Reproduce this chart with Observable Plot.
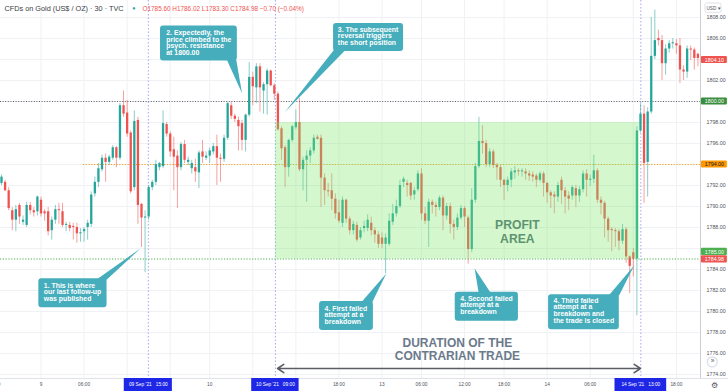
<!DOCTYPE html>
<html><head><meta charset="utf-8">
<script src="https://cdn.jsdelivr.net/npm/d3@7"></script>
<script src="https://cdn.jsdelivr.net/npm/@observablehq/plot@0.6"></script>
<style>html,body{margin:0;padding:0;background:#fff;overflow:hidden} #chart svg{display:block}</style>
</head><body><div id="chart"></div>
<script>
// 30-minute OHLC candles (bar index 0..194)
const opens = [
1792.2,1792.3,1791.5,1789.6,1788.7,1790.1,1788.5,1788.2,1790.1,1789.6,
1789.5,1790.6,1789.5,1789.5,1787.7,1788.7,1789.7,1789.5,1788.2,1788.2,
1788.1,1788.0,1787.4,1787.6,1788.0,1788.3,1791.2,1792.3,1793.5,1794.6,
1794.2,1794.6,1795.6,1794.6,1799.6,1798.9,1797.0,1791.8,1798.2,1790.2,
1788.9,1789.0,1791.8,1792.3,1793.7,1793.8,1797.8,1796.9,1795.4,1794.8,
1793.7,1795.9,1794.2,1793.6,1793.7,1793.2,1795.2,1794.6,1794.8,1795.2,
1795.7,1794.6,1794.5,1796.5,1799.6,1798.6,1798.2,1797.9,1796.3,1798.7,
1802.3,1801.3,1803.3,1801.0,1801.6,1802.9,1801.5,1800.7,1797.4,1795.6,
1793.7,1796.3,1797.5,1798.0,1793.5,1794.4,1794.8,1795.3,1796.6,1796.5,
1792.7,1791.5,1791.5,1790.7,1789.4,1788.4,1790.6,1788.8,1787.7,1788.2,
1787.0,1787.9,1787.9,1788.4,1787.7,1787.3,1787.0,1786.4,1786.4,1788.5,
1789.3,1790.0,1792.3,1792.2,1792.2,1791.1,1791.6,1793.1,1789.3,1788.6,
1790.4,1790.1,1789.9,1790.8,1789.1,1790.0,1788.3,1788.0,1788.9,1789.8,
1788.9,1785.9,1790.6,1793.8,1796.2,1796.0,1794.0,1795.2,1793.9,1793.7,
1792.5,1792.0,1792.5,1793.2,1793.4,1793.3,1793.3,1793.1,1793.0,1792.9,
1792.5,1793.1,1792.2,1791.3,1791.1,1790.9,1792.5,1791.5,1791.0,1791.0,
1791.7,1791.0,1791.6,1793.1,1792.5,1792.6,1793.4,1790.6,1790.3,1788.8,
1787.8,1787.7,1787.6,1786.7,1787.8,1785.2,1785.6,1785.0,1797.2,1798.8,
1794.2,1799.0,1804.3,1806.0,1805.8,1803.6,1805.0,1805.5,1805.5,1805.3,
1803.0,1802.8,1805.0,1804.9,1804.5];
const highs = [
1793.0,1792.5,1791.8,1789.9,1790.1,1790.3,1789.1,1790.4,1790.4,1789.9,
1791.0,1790.9,1789.7,1789.9,1789.0,1790.1,1790.3,1790.3,1788.5,1788.5,
1788.4,1788.4,1787.9,1788.0,1788.7,1791.4,1792.8,1794.1,1794.9,1795.0,
1794.9,1795.8,1795.7,1799.8,1801.0,1800.1,1797.2,1799.1,1798.5,1790.3,
1789.6,1792.0,1792.5,1794.4,1794.2,1799.1,1798.0,1797.1,1796.6,1795.3,
1796.1,1796.3,1794.7,1794.4,1794.5,1795.3,1796.3,1795.2,1795.6,1796.0,
1796.8,1795.0,1796.8,1799.9,1799.9,1798.8,1798.5,1798.2,1798.8,1803.7,
1802.8,1803.6,1803.6,1801.8,1803.1,1803.0,1801.7,1800.9,1797.6,1795.8,
1796.4,1797.7,1799.2,1800.3,1794.7,1795.3,1795.6,1796.8,1796.8,1796.8,
1793.1,1792.2,1793.1,1791.2,1790.6,1790.9,1790.7,1789.0,1788.6,1788.5,
1788.0,1788.6,1789.2,1789.0,1788.0,1787.6,1787.5,1787.4,1789.3,1790.2,
1790.6,1792.5,1792.8,1792.5,1792.3,1791.8,1793.4,1793.6,1789.9,1790.7,
1790.6,1790.4,1791.0,1791.0,1790.3,1790.3,1788.7,1789.3,1790.1,1790.0,
1789.1,1791.7,1794.1,1798.5,1797.7,1796.3,1795.5,1795.4,1794.1,1793.9,
1792.6,1792.8,1793.6,1793.8,1793.6,1793.6,1793.6,1793.4,1793.3,1793.1,
1793.3,1793.3,1792.3,1791.5,1791.4,1792.3,1792.8,1791.8,1791.4,1792.0,
1792.0,1791.9,1793.4,1793.5,1793.0,1794.9,1793.6,1790.9,1790.5,1789.0,
1788.0,1787.9,1787.8,1788.3,1788.0,1785.3,1786.0,1797.6,1799.8,1799.6,
1799.4,1808.0,1808.7,1806.8,1806.3,1805.4,1805.8,1806.0,1805.9,1806.0,
1803.4,1805.3,1805.3,1805.1,1804.6];
const lows = [
1792.0,1791.4,1789.6,1787.7,1787.6,1788.3,1788.2,1788.0,1789.2,1789.0,
1789.1,1789.0,1788.6,1787.2,1786.8,1788.3,1788.3,1788.0,1787.6,1787.6,
1786.8,1786.5,1786.6,1786.6,1786.8,1788.0,1790.9,1791.8,1793.3,1792.3,
1793.9,1794.4,1793.7,1794.4,1798.5,1796.6,1791.2,1791.5,1788.3,1786.1,
1783.7,1788.7,1791.5,1792.0,1793.4,1793.6,1796.6,1794.7,1791.5,1789.8,
1793.4,1794.1,1793.9,1793.1,1792.3,1791.7,1794.1,1794.4,1794.1,1794.9,
1792.0,1792.3,1794.2,1796.3,1798.3,1798.0,1795.3,1795.3,1795.2,1798.5,
1799.6,1799.8,1799.0,1798.8,1798.7,1801.4,1800.1,1797.2,1794.4,1791.8,
1792.8,1796.1,1797.3,1793.3,1791.5,1790.4,1794.1,1795.0,1796.3,1789.9,
1790.1,1790.9,1789.6,1788.8,1788.4,1788.0,1788.4,1787.3,1787.3,1786.6,
1786.8,1787.5,1787.6,1787.2,1786.5,1786.0,1786.0,1783.6,1786.2,1788.2,
1789.0,1789.8,1791.8,1790.9,1790.6,1790.6,1791.4,1788.7,1788.3,1786.1,
1789.3,1789.0,1789.6,1787.7,1788.7,1787.4,1786.8,1787.7,1788.7,1788.0,
1784.5,1785.6,1790.3,1793.6,1795.0,1793.7,1793.7,1793.6,1792.5,1791.8,
1790.6,1791.4,1791.8,1792.6,1792.9,1792.8,1792.5,1792.4,1792.3,1791.8,
1792.3,1790.9,1790.3,1789.8,1789.3,1790.4,1790.2,1789.3,1789.6,1790.6,
1789.9,1790.4,1791.3,1790.9,1791.9,1792.2,1790.3,1789.2,1787.0,1786.6,
1785.7,1786.1,1785.8,1786.4,1784.6,1781.7,1783.3,1779.6,1797.0,1790.3,
1790.9,1798.8,1804.0,1805.3,1802.0,1802.5,1804.6,1805.0,1804.5,1801.7,
1802.0,1802.2,1803.9,1803.0,1803.3];
const closes = [
1792.8,1791.5,1789.8,1788.7,1789.7,1789.0,1788.7,1790.1,1789.6,1789.4,
1790.9,1789.3,1789.3,1787.6,1788.7,1789.7,1789.6,1788.2,1788.3,1787.9,
1788.0,1787.4,1787.5,1787.8,1788.4,1791.1,1792.3,1793.6,1794.6,1794.2,
1794.7,1795.6,1794.6,1799.6,1798.8,1796.9,1791.4,1798.1,1790.1,1788.9,
1789.0,1791.8,1792.3,1794.0,1794.1,1797.9,1796.9,1795.2,1794.7,1793.7,
1795.9,1794.4,1794.4,1794.1,1793.3,1795.1,1794.7,1794.8,1795.3,1795.7,
1794.6,1794.5,1796.5,1799.8,1798.6,1798.3,1797.6,1796.3,1798.7,1802.3,
1801.4,1803.3,1801.3,1801.6,1802.9,1801.5,1800.7,1797.3,1795.5,1793.7,
1796.3,1797.6,1798.0,1793.5,1794.4,1794.8,1795.3,1796.5,1796.4,1792.7,
1791.5,1791.4,1790.7,1789.3,1788.6,1790.6,1788.8,1787.7,1788.3,1786.8,
1787.7,1788.1,1788.7,1787.7,1787.3,1786.4,1786.4,1787.0,1788.6,1789.3,
1790.0,1792.0,1792.6,1792.0,1791.0,1791.5,1793.1,1789.3,1788.6,1790.4,
1790.1,1789.9,1790.8,1789.1,1790.0,1788.3,1788.0,1788.9,1789.8,1789.0,
1785.9,1790.6,1793.8,1796.2,1796.0,1794.0,1795.2,1793.9,1793.7,1792.5,
1792.0,1792.5,1793.3,1793.4,1793.3,1793.4,1793.1,1792.9,1792.8,1792.5,
1793.1,1792.2,1791.3,1791.0,1790.9,1792.0,1791.5,1790.9,1790.7,1791.8,
1791.0,1791.6,1793.1,1792.5,1792.6,1793.4,1790.6,1790.3,1788.8,1787.7,
1787.7,1787.6,1786.7,1787.8,1785.2,1784.3,1784.98,1797.2,1798.8,1794.1,
1799.0,1804.3,1805.8,1805.8,1803.6,1805.0,1805.5,1805.6,1805.3,1803.0,
1802.8,1805.0,1804.9,1804.1,1804.1];

// time axis (bar index of each label); labels hidden behind date markers are flagged
const tickIdx = [-2, 11, 23, 35, 47, 58, 70, 82, 94, 106, 117, 129, 140, 152, 164, 176, 188];
const tickLabels = ["18:00","9","06:00","12:00","18:00","10","06:00","12:00","18:00","13","06:00","12:00","18:00","14","06:00","12:00","18:00"];
const tickHidden = [false,false,false,true,true,false,true,true,false,false,false,false,false,false,false,true,false];
const yTicks = d3.range(1774, 1809, 2);
const yHidden = [1786, 1794, 1800, 1804];

// highlighted dates on the time axis
const markerIdx = [40.9, 76.3, 178.1];
const markerLabels = ["09 Sep '21\u00a0\u00a0\u00a015:00", "10 Sep '21\u00a0\u00a0\u00a009:00", "14 Sep '21\u00a0\u00a0\u00a013:00"];
const markerHalf = [6.7, 6.6, 7.2];

// price levels
const resistance = 1800, midLevel = 1794, support = 1785;
const profitTop = 1798, profitStart = 76.3, profitEnd = 177.7;

// price tags on right scale
const tagValues = ["1804.10", "1800.00", "1794.00", "1785.00", "1784.98"];
const tagY = [1803.95, 1800, 1794, 1785.68, 1784.97];
const tagBg = ["#ef5350", "#388e3c", "#ff9800", "#4caf50", "#ef5350"];
const tagFg = ["#fff", "#fff", "#131722", "#fff", "#fff"];

const callouts = [
 {x1:10.4,x2:29.4,y1:1780.35,y2:1783.11, tx:11.8, ty:1782.71, text:"1. This is where\nour last follow-up\nwas published", ptr:[[26.3,1783.0],[29.2,1783.0],[38.7,1786.0]]},
 {x1:44.3,x2:65.7,y1:1803.86,y2:1807.19, tx:45.9, ty:1806.79, text:"2. Expectedly, the\nprice climbed to the\npsych. resistance\nat 1800.00", ptr:[[62.8,1803.95],[65.4,1803.95],[67.0,1800.79]]},
 {x1:92.5,x2:112.0,y1:1804.76,y2:1807.43, tx:93.7, ty:1807.1, text:"3. The subsequent\nreversal triggers\nthe short position", ptr:[[92.6,1804.9],[95.8,1804.9],[78.9,1798.98]]},
 {x1:88.6,x2:103.6,y1:1778.19,y2:1780.95, tx:90.0, ty:1780.52, text:"4. First failed\nattempt at a\nbreakdown", ptr:[[100.3,1780.9],[103.3,1780.9],[107.2,1783.62]]},
 {x1:126.4,x2:144.0,y1:1779.08,y2:1781.84, tx:127.8, ty:1781.48, text:"4. Second failed\nattempt at a\nbreakdown", ptr:[[132.9,1781.8],[136.2,1781.8],[131.8,1784.1]]},
 {x1:152.4,x2:172.1,y1:1778.26,y2:1781.59, tx:153.8, ty:1781.29, text:"4. Third failed\nattempt at a\nbreakdown and\nthe trade is closed", ptr:[[169.1,1781.5],[172.0,1781.5],[176.3,1784.4]]}
];

const UP = "#26a69a", DOWN = "#ef5350", TEAL = "#45adbb";
const candles = opens.map((o, i) => ({i, o, h: highs[i], l: lows[i], c: closes[i]}));
const col = d => d.c >= d.o ? UP : DOWN;
const bodyEnd = d => Math.abs(d.c - d.o) < 0.1 ? d.o + (d.c >= d.o ? 0.1 : -0.1) : d.c;

const ptrs = callouts.flatMap((c, k) => c.ptr.map(p => ({k, x: p[0], y: p[1]})));
const tags = tagValues.map((t, k) => ({t, y: tagY[k], bg: tagBg[k], fg: tagFg[k]}));
const markers = markerIdx.map((x, k) => ({x, t: markerLabels[k], h: markerHalf[k]}));
const xTicks = tickIdx.map((x, k) => ({x, t: tickLabels[k], hidden: tickHidden[k]}));
const xEnd = 194.72, yMin = 1773.62, yMax = 1809.62;

const chart = Plot.plot({
  width: 728, height: 391,
  marginLeft: 0, marginRight: 28, marginTop: 0, marginBottom: 13,
  x: {domain: [-0.279, xEnd], axis: null},
  y: {domain: [yMin, yMax]},
  color: {type: "identity"},
  style: {fontFamily: "'Liberation Sans', Arial, sans-serif", background: "#fff", overflow: "visible"},
  marks: [
    // grid
    Plot.ruleY(yTicks, {stroke: "#eff1f5", strokeWidth: 1}),
    Plot.ruleX(tickIdx.filter(d => d >= 0), {stroke: "#eff1f5", strokeWidth: 1}),
    // levels
    Plot.ruleY([resistance], {stroke: "#5d606b", strokeWidth: 1, strokeDasharray: "1,1.6"}),
    Plot.ruleY([support], {stroke: "#4caf50", strokeWidth: 1, strokeDasharray: "1.2,1.6"}),
    Plot.ruleY([midLevel], {x1: 22.8, x2: xEnd, stroke: "#f6a01a", strokeWidth: 1, strokeDasharray: "1.2,1.6"}),
    Plot.ruleX(markerIdx, {stroke: "#a3a6f2", strokeWidth: 1, strokeDasharray: "1.5,2"}),
    // candles
    Plot.ruleX(candles, {x: "i", y1: "l", y2: "h", stroke: col, strokeWidth: 1, strokeOpacity: 0.55}),
    Plot.ruleX(candles, {x: "i", y1: "o", y2: bodyEnd, stroke: col, strokeWidth: 2.3}),
    // profit area
    Plot.rect([{x1: profitStart, x2: profitEnd, y1: support, y2: profitTop}], {x1: "x1", x2: "x2", y1: "y1", y2: "y2", fill: "#7be86a", fillOpacity: 0.33}),
    Plot.text([{x: 143.7, y: 1787.62, t: "PROFIT\nAREA"}], {x: "x", y: "y", text: "t", fontSize: 12.2, fontWeight: "bold", fill: "#5f9370", lineHeight: 1.12}),
    // callouts
    Plot.line(ptrs, {x: "x", y: "y", z: "k", fill: TEAL, stroke: "none"}),
    Plot.rect(callouts, {x1: "x1", x2: "x2", y1: "y1", y2: "y2", fill: TEAL, rx: 3}),
    Plot.text(callouts, {x: "tx", y: "ty", text: "text", textAnchor: "start", lineAnchor: "top", fontSize: 6.9, fontWeight: "bold", fill: "#fff", lineHeight: 0.97}),
    // duration arrow
    Plot.arrow([{a: 127.4, b: 76.9}, {a: 127.4, b: 178.0}], {x1: "a", x2: "b", y1: () => 1774.57, y2: () => 1774.57, stroke: "#5a5d66", strokeWidth: 1.6, headLength: 7, headAngle: 68}),
    Plot.text([{x: 127.0, y: 1776.43, t: "DURATION OF THE\nCONTRARIAN TRADE"}], {x: "x", y: "y", text: "t", fontSize: 12, fontWeight: "bold", fill: "#6b7a8b", lineHeight: 1.08}),
    // scale borders
    Plot.ruleX([xEnd], {stroke: "#c9ccd4", strokeWidth: 1}),
    Plot.ruleY([yMin], {x1: -1, x2: 203, stroke: "#dfe2e8", strokeWidth: 1}),
    // right price axis (labels under the price tags are covered in the original)
    Plot.axisY({anchor: "right", ticks: yTicks.filter(d => !yHidden.includes(d)), tickSize: 0, tickPadding: 6, fontSize: 5.3, fill: "#50535e", tickFormat: d => d.toFixed(2), label: null}),
    Plot.rect(tags, {x1: () => 194.98, x2: () => 202.2, y1: d => d.y - 0.34, y2: d => d.y + 0.34, fill: "bg", rx: 1}),
    Plot.text(tags, {x: () => 198.6, y: "y", text: "t", fill: "fg", fontSize: 5.3}),
    // time axis labels
    Plot.text(xTicks.filter(d => !d.hidden), {x: "x", frameAnchor: "bottom", dy: 6.3, text: "t", fontSize: 4.8, fill: "#50535e", lineAnchor: "middle"}),
    Plot.rect(markers, {x1: d => d.x - d.h, x2: d => d.x + d.h, y1: () => 1772.3, y2: () => yMin, fill: "#1f27e6"}),
    Plot.text(markers, {x: "x", frameAnchor: "bottom", dy: 6.3, text: "t", fontSize: 4.8, fill: "#fff", lineAnchor: "middle"}),
    // header
    Plot.text(["CFDs on Gold (US$ / OZ) \u00b7 30 \u00b7 TVC"], {frameAnchor: "top-left", dx: 4, dy: 8, text: d => d, textAnchor: "start", lineAnchor: "middle", fontSize: 7.3, fill: "#3a3d45"}),
    Plot.text(["\u25cf"], {frameAnchor: "top-left", dx: 131.7, dy: 8, text: d => d, lineAnchor: "middle", fontSize: 5.5, fill: "#26a69a"}),
    Plot.text(["O1785.60 H1786.02 L1783.30 C1784.98 \u22120.70 (\u22120.04%)"], {frameAnchor: "top-left", dx: 142, dy: 8, text: d => d, textAnchor: "start", lineAnchor: "middle", fontSize: 6.4, fill: "#ef5350"}),
    // scale widgets
    Plot.rect([0], {x1: () => 196.1, x2: () => 200.6, y1: () => 1808.45, y2: () => 1809.33, fill: "#fff", stroke: "#dfe2e8", rx: 1.5}),
    Plot.text(["USD \u25be"], {x: () => 198.35, y: () => 1808.89, text: d => d, fontSize: 4.6, fill: "#50535e"}),
    Plot.dot([0], {x: () => 198.0, y: () => 1775.2, r: 5, fill: "#fff", stroke: "#e0e3eb"}),
    Plot.text(["\u00bb"], {x: () => 198.05, y: () => 1775.25, text: d => d, fontSize: 6.5, fill: "#50535e"}),
    Plot.text(["\u2699"], {x: () => 198.6, y: () => 1773.0, text: d => d, fontSize: 8, fill: "#50535e"})
  ]
});
document.getElementById("chart").appendChild(chart);
</script>
</body></html>
